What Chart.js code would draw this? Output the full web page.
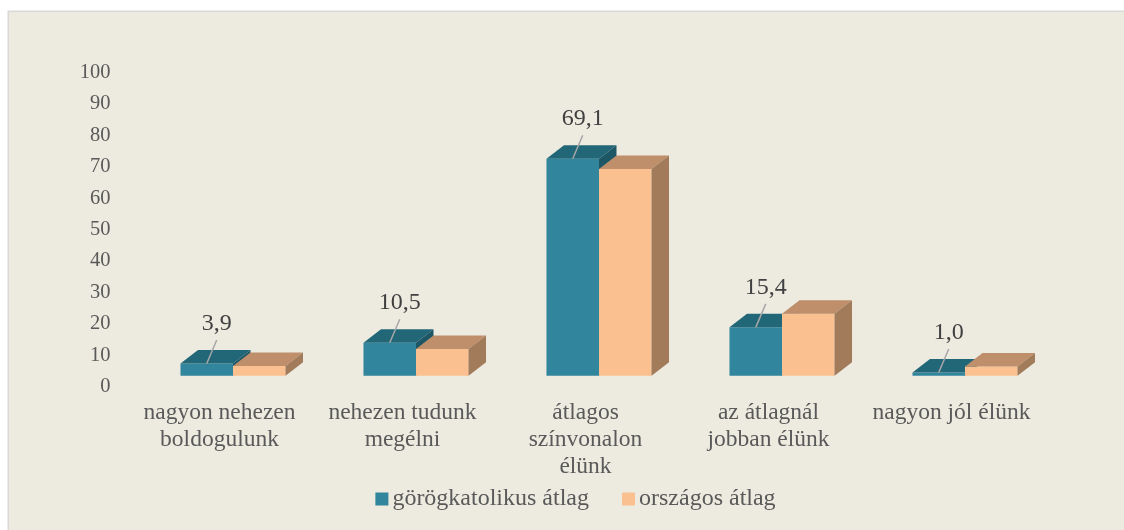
<!DOCTYPE html>
<html>
<head>
<meta charset="utf-8">
<script src="https://cdn.jsdelivr.net/npm/chart.js@4/dist/chart.umd.min.js"></script>
<style>
  body { margin: 0; background: #fff; }
  canvas { display: block; }
</style>
</head>
<body>
<canvas id="lifeChart" width="1124" height="530"></canvas>
<script>
// Data
const categories = [
  ['nagyon nehezen', 'boldogulunk'],
  ['nehezen tudunk', 'megélni'],
  ['átlagos', 'színvonalon', 'élünk'],
  ['az átlagnál', 'jobban élünk'],
  'nagyon jól élünk'
];
const gorogkatolikus = [3.9, 10.5, 69.1, 15.4, 1.0];
const orszagos = [3.1, 8.5, 65.8, 19.7, 2.9];
const seriesNames = ['görögkatolikus átlag', 'országos átlag'];

// 3D look: front / top / side shades per series
const frontColors = ['#31859C', '#FAC090'];
const topColors = ['#226778', '#BE8F6A'];
const sideColors = ['#1D5766', '#A17B5A'];
const DX = 17.5, DY = 13.5;
const FONT = "'Liberation Serif', 'Times New Roman', serif";

Chart.defaults.font.family = FONT;
Chart.defaults.color = '#595959';

// panel background with thin frame
const panel = {
  id: 'panel',
  beforeDraw(chart) {
    const ctx = chart.ctx;
    ctx.save();
    ctx.fillStyle = '#ffffff';
    ctx.fillRect(0, 0, chart.width, chart.height);
    ctx.fillStyle = '#EDEBE0';
    ctx.fillRect(9, 12, chart.width - 9, chart.height - 12);
    ctx.strokeStyle = '#D9D9D9';
    ctx.lineWidth = 1.5;
    ctx.beginPath();
    ctx.moveTo(8.25, chart.height);
    ctx.lineTo(8.25, 11.25);
    ctx.lineTo(chart.width, 11.25);
    ctx.stroke();
    ctx.restore();
  }
};

// draw bars category by category so the faces overlap correctly
const bars3d = {
  id: 'bars3d',
  beforeDatasetsDraw(chart) {
    const ctx = chart.ctx;
    const metas = chart.data.datasets.map((d, i) => chart.getDatasetMeta(i));
    ctx.save();
    for (let i = 0; i < chart.data.labels.length; i++) {
      metas.forEach((meta, di) => {
        const bar = meta.data[i];
        const l = bar.x - bar.width / 2, r = bar.x + bar.width / 2;
        const top = bar.y, base = bar.base;
        bar.draw(ctx);
        ctx.fillStyle = topColors[di];
        ctx.beginPath();
        ctx.moveTo(l, top);
        ctx.lineTo(l + DX, top - DY);
        ctx.lineTo(r + DX, top - DY);
        ctx.lineTo(r, top);
        ctx.closePath();
        ctx.fill();
        ctx.fillStyle = sideColors[di];
        ctx.beginPath();
        ctx.moveTo(r, top);
        ctx.lineTo(r + DX, top - DY);
        ctx.lineTo(r + DX, base - DY);
        ctx.lineTo(r, base);
        ctx.closePath();
        ctx.fill();
      });
    }
    ctx.restore();
    return false;
  }
};

// value labels with leader lines for the first series
const valueLabels = {
  id: 'valueLabels',
  afterDraw(chart) {
    const ctx = chart.ctx;
    const meta = chart.getDatasetMeta(0);
    ctx.save();
    ctx.font = '24px ' + FONT;
    ctx.textAlign = 'center';
    ctx.textBaseline = 'middle';
    meta.data.forEach((bar, i) => {
      const lx = bar.x + 10, ly = bar.y - 40;
      ctx.strokeStyle = '#A6A6A6';
      ctx.lineWidth = 1.5;
      ctx.beginPath();
      ctx.moveTo(lx, ly + 16.5);
      ctx.lineTo(bar.x, bar.y);
      ctx.stroke();
      ctx.fillStyle = '#404040';
      ctx.fillText(gorogkatolikus[i].toFixed(1).replace('.', ','), lx, ly);
    });
    ctx.restore();
  }
};

// legend row: small square, tight gap, wide spacing between items
const legendRow = {
  id: 'legendRow',
  afterDraw(chart) {
    const ctx = chart.ctx;
    ctx.save();
    ctx.font = '24px ' + FONT;
    ctx.textBaseline = 'middle';
    const items = chart.data.datasets.map(ds => ({
      text: ds.label, color: ds.backgroundColor, w: ctx.measureText(ds.label).width
    }));
    const total = items.reduce((s, it) => s + 17 + it.w, 0) + 33 * (items.length - 1);
    let x = 575.5 - total / 2;
    const cy = 499;
    items.forEach(it => {
      ctx.fillStyle = it.color;
      ctx.fillRect(x, cy - 6.5, 13, 13);
      ctx.fillStyle = '#595959';
      ctx.fillText(it.text, x + 17, cy);
      x += 17 + it.w + 33;
    });
    ctx.restore();
  }
};

const ctx = document.getElementById('lifeChart').getContext('2d');
const lifeChart = new Chart(ctx, {
  type: 'bar',
  data: {
    labels: categories,
    datasets: [
      {
        label: seriesNames[0],
        data: gorogkatolikus,
        backgroundColor: frontColors[0],
        categoryPercentage: 0.574,
        barPercentage: 1
      },
      {
        label: seriesNames[1],
        data: orszagos,
        backgroundColor: frontColors[1],
        categoryPercentage: 0.574,
        barPercentage: 1
      }
    ]
  },
  options: {
    responsive: false,
    devicePixelRatio: 1,
    animation: false,
    layout: {
      padding: { left: 76, right: 67.5, top: 61.7, bottom: 49.6 }
    },
    scales: {
      x: {
        grid: { display: false, drawTicks: false },
        border: { display: false },
        ticks: {
          font: { size: 23.5, lineHeight: 1.15 },
          color: '#595959',
          padding: 23.8,
          labelOffset: -13.5,
          maxRotation: 0,
          autoSkip: false
        },
        afterFit(scale) { scale.height = 104.7; }
      },
      y: {
        min: 0,
        max: 100,
        grid: { display: false, drawTicks: false },
        border: { display: false },
        ticks: {
          stepSize: 10,
          font: { size: 20.5 },
          color: '#595959',
          padding: 31,
          labelOffset: 11
        },
        afterFit(scale) { scale.width = 65.5; }
      }
    },
    plugins: {
      legend: { display: false },
      tooltip: { enabled: false }
    }
  },
  plugins: [panel, bars3d, valueLabels, legendRow]
});
</script>
</body>
</html>
